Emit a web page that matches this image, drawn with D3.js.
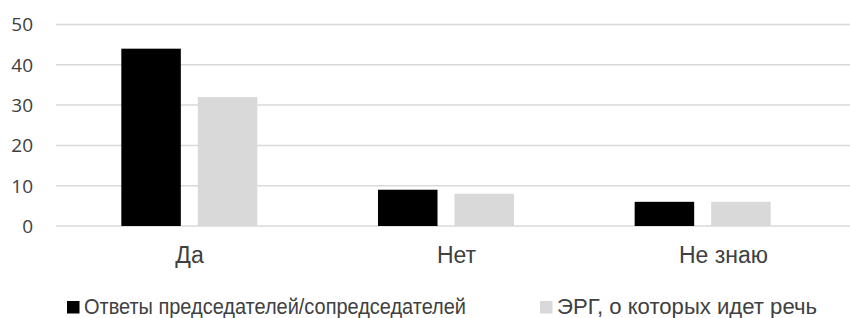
<!DOCTYPE html>
<html>
<head>
<meta charset="utf-8">
<script src="https://cdn.jsdelivr.net/npm/d3@7"></script>
<style>
  body { margin: 0; background: #fff; }
  svg { display: block; }
</style>
</head>
<body>
<svg id="chart" width="850" height="318"></svg>
<script>
// data
const categories = ["Да", "Нет", "Не знаю"];
const seriesNames = ["Ответы председателей/сопредседателей", "ЭРГ, о которых идет речь"];
const chairs = [44, 9, 6];
const ergs = [32, 8, 6];
const yTicks = [0, 10, 20, 30, 40, 50];
const colors = ["#000000", "#d9d9d9"];

const svg = d3.select("#chart"),
  width = +svg.attr("width"),
  height = +svg.attr("height");

const rows = categories.map((c, i) => ({ cat: c, values: [chairs[i], ergs[i]] }));

// scales
const y = d3.scaleLinear().domain([0, 50]).range([226, 24.5]);

const x0 = d3.scaleBand()
  .domain(categories)
  .range([61, 831])
  .paddingInner(0.47)
  .paddingOuter(0.235);

const x1 = d3.scaleBand()
  .domain([0, 1])
  .range([0, x0.bandwidth()])
  .paddingInner(0.222);

// labels sit a bit wider than the bars in the original
const xLabel = d3.scaleBand()
  .domain(categories)
  .range([56, 857]);

// gridlines
svg.append("g")
  .selectAll("line")
  .data(yTicks)
  .enter()
  .append("line")
    .attr("x1", 56)
    .attr("x2", width)
    .attr("y1", d => y(d))
    .attr("y2", d => y(d))
    .style("stroke", "#d9d9d9")
    .style("stroke-width", 1.5);

// y tick labels
svg.append("g")
  .selectAll("text")
  .data(yTicks)
  .enter()
  .append("text")
    .attr("x", 33)
    .attr("y", d => y(d))
    .attr("dy", "0.36em")
    .attr("text-anchor", "end")
    .style("font-family", "'Open Sans', sans-serif")
    .style("font-size", "19px")
    .style("fill", "#404040")
    .text(d => d);

// bars
svg.append("g")
  .selectAll("g")
  .data(rows)
  .enter()
  .append("g")
    .attr("transform", d => "translate(" + x0(d.cat) + ",0)")
  .selectAll("rect")
  .data(d => d.values)
  .enter()
  .append("rect")
    .attr("x", (d, i) => x1(i))
    .attr("width", x1.bandwidth())
    .attr("y", d => y(d))
    .attr("height", d => y(0) - y(d))
    .attr("fill", (d, i) => colors[i]);

// category labels
svg.append("g")
  .selectAll("text")
  .data(categories)
  .enter()
  .append("text")
    .attr("x", d => xLabel(d) + xLabel.bandwidth() / 2)
    .attr("y", 263)
    .attr("text-anchor", "middle")
    .style("font-family", "'Liberation Sans', Arial, sans-serif")
    .style("font-size", "23px")
    .style("fill", "#404040")
    .text(d => d);

// legend
const legendX = [67, 540];
const legendTextLen = [382, 260];
const legend = svg.append("g")
  .selectAll("g")
  .data(seriesNames)
  .enter()
  .append("g")
    .attr("transform", (d, i) => "translate(" + legendX[i] + ",0)");

legend.append("rect")
  .attr("x", 0)
  .attr("y", 301)
  .attr("width", 12.5)
  .attr("height", 12.5)
  .attr("fill", (d, i) => colors[i]);

legend.append("text")
  .attr("x", 17)
  .attr("y", 314)
  .attr("textLength", (d, i) => legendTextLen[i])
  .attr("lengthAdjust", "spacingAndGlyphs")
  .style("font-family", "'Liberation Sans', Arial, sans-serif")
  .style("font-size", "22px")
  .style("fill", "#404040")
  .text(d => d);
</script>
</body>
</html>
